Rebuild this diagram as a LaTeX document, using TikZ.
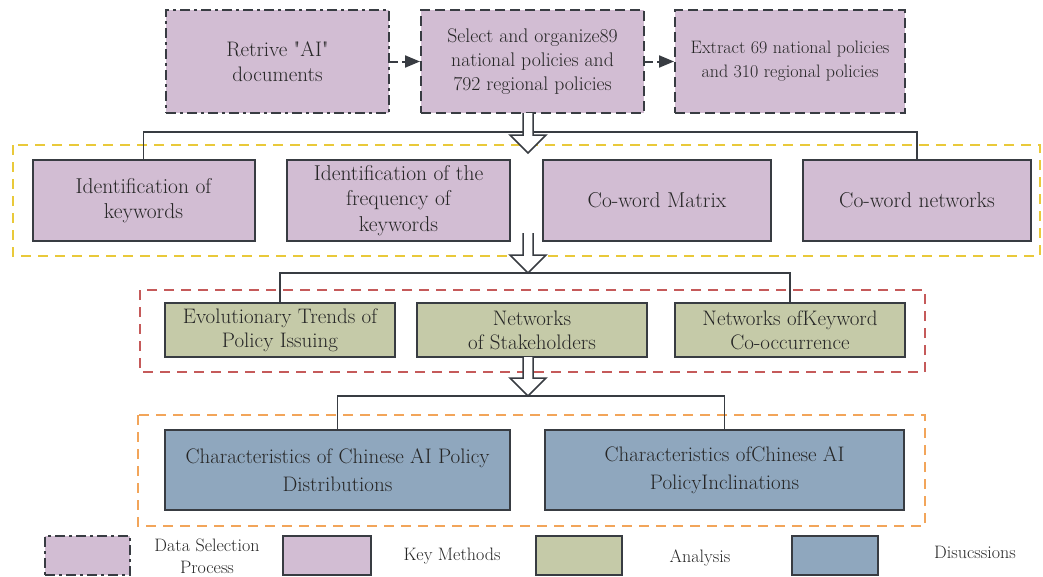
\documentclass[tikz,border=0pt]{standalone}
\usetikzlibrary{arrows.meta,calc}
\definecolor{mauve}{HTML}{D2BDD3}
\definecolor{olivefill}{HTML}{C5CAA8}
\definecolor{bluefill}{HTML}{8FA7BE}
\definecolor{edge}{HTML}{383C42}
\definecolor{txt}{HTML}{262626}
\definecolor{grpyellow}{HTML}{E9C93A}
\definecolor{grpred}{HTML}{C55A5A}
\definecolor{grporange}{HTML}{F2A55A}
\font\plainq="Latin Modern Roman" at 21pt
\newcommand{\sq}{{\plainq"}}
\tikzset{
  box/.style={draw=edge,line width=2pt,text=txt,align=center,inner sep=2pt},
  fa/.style={font=\fontsize{21}{25}\selectfont},
  fb/.style={font=\fontsize{19.7}{24}\selectfont},
  fc/.style={font=\fontsize{18}{24}\selectfont},
  fr2/.style={font=\fontsize{21.5}{25.5}\selectfont},
  fr3/.style={font=\fontsize{21}{24}\selectfont},
  fr4/.style={font=\fontsize{21}{28}\selectfont},
  dsel/.style={box,fill=mauve,dash pattern=on 10pt off 4pt on 3pt off 4pt},
  dsel2/.style={box,fill=mauve,dash pattern=on 10pt off 5pt},
  keym/.style={box,fill=mauve},
  anal/.style={box,fill=olivefill},
  disc/.style={box,fill=bluefill},
  grp/.style={line width=2pt,dash pattern=on 10pt off 7pt},
  conn/.style={draw=edge,line width=1.5pt},
  hollow/.style={draw=edge,line width=1.5pt,fill=white},
  dflow/.style={draw=edge,line width=2pt,dash pattern=on 8pt off 4pt,-{Triangle[length=15pt,width=12pt]}},
  legtxt/.style={text=txt,align=center,font=\fontsize{18}{22}\selectfont}
}
\newcommand{\hollowarrow}[3]{% x, shaft top y, head base y ; tip = base+18
  \path[hollow] (#1-5,#2) -- (#1-5,#3) -- (#1-18,#3) -- (#1,#3+18) -- (#1+18,#3) -- (#1+5,#3) -- (#1+5,#2);
}
\begin{document}
\begin{tikzpicture}[x=1pt,y=-1pt]
\useasboundingbox (0,0) rectangle (1043,576);

% group frames
\draw[grp,draw=grpyellow] (13,145) rectangle (1040,256);
\draw[grp,draw=grpred] (140,290) rectangle (925,372);
\draw[grp,draw=grporange] (138,415) rectangle (925,526);

% top row
\node[dsel,fa,minimum width=223pt,minimum height=103pt] (A) at (277.5,61.5) {Retrive \sq AI\sq\\documents};
\node[dsel2,fb,minimum width=223pt,minimum height=103pt] (B) at (532.5,61.5) {Select and organize89\\national policies and\\792 regional policies};
\node[dsel2,fc,minimum width=230pt,minimum height=103pt] (C) at (790,61.5) {Extract 69 national policies\\and 310 regional policies};
\draw[dflow] (A.east) -- (B.west);
\draw[dflow] (B.east) -- (C.west);

% row 2
\node[keym,fr2,minimum width=222pt,minimum height=81pt] (k1) at (143.5,200.5) {Identification of\\keywords};
\node[keym,fr2,minimum width=223pt,minimum height=81pt] (k2) at (398.5,200.5) {Identification of the\\frequency of\\keywords};
\node[keym,fr2,minimum width=228pt,minimum height=81pt] (k3) at (657,200.5) {Co-word Matrix};
\node[keym,fr2,minimum width=228pt,minimum height=81pt] (k4) at (917,200.5) {Co-word networks};

% row 3
\node[anal,fr3,minimum width=230pt,minimum height=54pt] (a1) at (280,330) {Evolutionary Trends of\\Policy Issuing};
\node[anal,fr3,minimum width=230pt,minimum height=54pt] (a2) at (532,330) {Networks\\of Stakeholders};
\node[anal,fr3,minimum width=230pt,minimum height=54pt] (a3) at (790,330) {Networks ofKeyword\\Co-occurrence};

% row 4
\node[disc,fr4,minimum width=345pt,minimum height=80pt] (d1) at (337.5,470) {Characteristics of Chinese AI Policy\\Distributions};
\node[disc,fr4,minimum width=359pt,minimum height=80pt] (d2) at (724.5,470) {Characteristics ofChinese AI\\PolicyInclinations};

% connectors
\coordinate (j1) at (528,132);
\draw[conn] (k1.north) |- (j1) -| (k4.north);
\hollowarrow{528}{113}{135}

\coordinate (j2) at (528,273);
\draw[conn] (a1.north) |- (j2) -| (a3.north);
\hollowarrow{528}{233}{255}

\coordinate (j3) at (528,396);
\draw[conn] (d1.north) |- (j3) -| (d2.north);
\hollowarrow{528}{357}{378}

% legend
\node[dsel,minimum width=85pt,minimum height=39pt] (L1) at (87.5,555.5) {};
\node[legtxt] (T1) at (207,556) {Data Selection\\Process};
\node[keym,minimum width=88pt,minimum height=39pt] (L2) at (327,555.5) {};
\node[legtxt] (T2) at (452,556) {Key Methods};
\node[anal,minimum width=86pt,minimum height=39pt] (L3) at (579,555.5) {};
\node[legtxt] (T3) at (700,558) {Analysis};
\node[disc,minimum width=86pt,minimum height=39pt] (L4) at (835,555.5) {};
\node[legtxt] (T4) at (975,552) {Disucssions};
\end{tikzpicture}
\end{document}
